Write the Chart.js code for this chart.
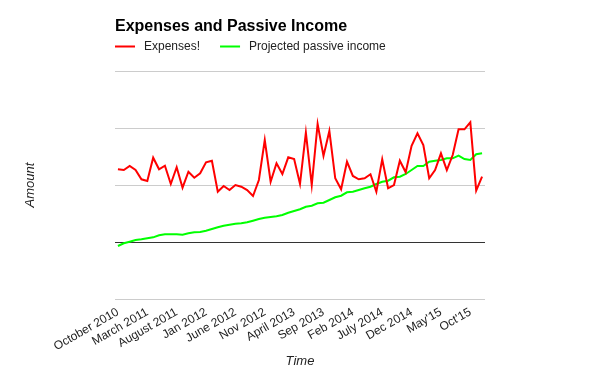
<!DOCTYPE html>
<html>
<head>
<meta charset="utf-8">
<title>Expenses and Passive Income</title>
<script src="https://cdn.jsdelivr.net/npm/chart.js@4.4.1/dist/chart.umd.min.js"></script>
<style>
    html, body { margin: 0; padding: 0; background: #fff; }
    canvas { display: block; }
</style>
</head>
<body>
<canvas id="expenseChart" width="600" height="371"></canvas>
<script>
// Monthly data, Oct 2010 - Dec 2015
const months = [
    'October 2010', 'November 2010', 'December 2010', 'January 2011', 'February 2011',
    'March 2011', 'April 2011', 'May 2011', 'June 2011', 'July 2011',
    'August 2011', 'Sep 2011', 'Oct 2011', 'Nov 2011', 'Dec 2011',
    'Jan 2012', 'Feb 2012', 'Mar 2012', 'Apr 2012', 'May 2012',
    'June 2012', 'July 2012', 'Aug 2012', 'Sep 2012', 'Oct 2012',
    'Nov 2012', 'Dec 2012', 'Jan 2013', 'Feb 2013', 'March 2013',
    'April 2013', 'May 2013', 'June 2013', 'July 2013', 'Aug 2013',
    'Sep 2013', 'Oct 2013', 'Nov 2013', 'Dec 2013', 'Jan 2014',
    'Feb 2014', 'Mar 2014', 'Apr 2014', 'May 2014', 'June 2014',
    'July 2014', 'Aug 2014', 'Sep 2014', 'Oct 2014', 'Nov 2014',
    'Dec 2014', "Jan'15", "Feb'15", "Mar'15", "Apr'15",
    "May'15", "Jun'15", "Jul'15", "Aug'15", "Sep'15",
    "Oct'15", "Nov'15", "Dec'15"
];

const expenses = [
    1275, 1263, 1333, 1263, 1100, 1070, 1479, 1275, 1339, 1018,
    1311, 953, 1233, 1128, 1205, 1398, 1426, 882, 982, 912,
    1000, 970, 912, 807, 1088, 1789, 1058, 1381, 1193, 1486,
    1456, 1018, 1918, 1000, 2070, 1509, 1947, 1118, 925, 1409,
    1158, 1100, 1118, 1188, 882, 1451, 942, 1000, 1426, 1223,
    1689, 1907, 1702, 1118, 1263, 1556, 1263, 1526, 1977, 1977,
    2100, 900, 1146
];

const passiveIncome = [
    -70, -23, 5, 35, 47, 65, 82, 118, 135, 135,
    135, 128, 153, 170, 175, 198, 228, 258, 286, 304,
    321, 328, 345, 374, 404, 426, 439, 451, 474, 514,
    544, 574, 619, 637, 679, 689, 737, 784, 812, 872,
    882, 912, 942, 970, 1018, 1058, 1075, 1135, 1146, 1193,
    1263, 1333, 1333, 1409, 1426, 1439, 1468, 1468, 1514, 1456,
    1439, 1539, 1556
];

const labelEvery = 5;
const fontFamily = '"Liberation Sans", Arial, sans-serif';

// legend drawn as short lines next to the labels, under the title
const lineLegend = {
    id: 'lineLegend',
    afterDraw(chart) {
        const ctx = chart.ctx;
        const y = 46.5;
        let x = chart.chartArea.left;
        ctx.save();
        ctx.font = '12px ' + fontFamily;
        ctx.textBaseline = 'middle';
        chart.data.datasets.forEach(ds => {
            ctx.fillStyle = ds.borderColor;
            ctx.fillRect(x, y - 1, 20, 2);
            ctx.fillStyle = '#222';
            ctx.fillText(ds.label, x + 29, y);
            x += 29 + ctx.measureText(ds.label).width + 20;
        });
        ctx.restore();
    }
};

const ctx = document.getElementById('expenseChart').getContext('2d');
new Chart(ctx, {
    type: 'line',
    data: {
        labels: months,
        datasets: [{
            label: 'Expenses!',
            data: expenses,
            borderColor: '#ff0000',
            backgroundColor: '#ff0000',
            borderWidth: 2,
            pointRadius: 0,
            tension: 0
        }, {
            label: 'Projected passive income',
            data: passiveIncome,
            borderColor: '#00ff00',
            backgroundColor: '#00ff00',
            borderWidth: 2,
            pointRadius: 0,
            tension: 0
        }]
    },
    options: {
        responsive: false,
        animation: false,
        layout: {
            padding: { top: 8, right: 115, bottom: 0, left: 0 }
        },
        plugins: {
            legend: { display: false },
            tooltip: { enabled: false },
            title: {
                display: true,
                text: 'Expenses and Passive Income',
                align: 'start',
                fullSize: false,
                color: '#000',
                font: { family: fontFamily, size: 16, weight: 'bold' },
                padding: { top: 9, bottom: 34.8 }
            }
        },
        scales: {
            x: {
                offset: true,
                grid: { display: false, drawTicks: false },
                border: { display: false },
                ticks: {
                    autoSkip: false,
                    minRotation: 30,
                    maxRotation: 30,
                    padding: 6,
                    labelOffset: 0,
                    color: '#222',
                    font: { family: fontFamily, size: 12 },
                    callback: (val, i) => i % labelEvery === 0 ? months[i] : ''
                },
                title: {
                    display: true,
                    text: 'Time',
                    color: '#222',
                    font: { family: fontFamily, size: 13, style: 'italic' },
                    padding: { top: 0, bottom: 2 }
                },
                afterFit: scale => { scale.height = 72; }
            },
            y: {
                min: -1000,
                max: 3000,
                ticks: { display: false, stepSize: 1000 },
                border: { display: false },
                grid: {
                    drawTicks: false,
                    color: c => c.tick.value === 0 ? '#333' : '#ccc'
                },
                title: {
                    display: true,
                    text: 'Amount',
                    color: '#222',
                    font: { family: fontFamily, size: 13, style: 'italic' },
                    padding: { top: 22.5, bottom: 0 }
                },
                afterFit: scale => { scale.width = 115; }
            }
        }
    },
    plugins: [lineLegend]
});
</script>
</body>
</html>
